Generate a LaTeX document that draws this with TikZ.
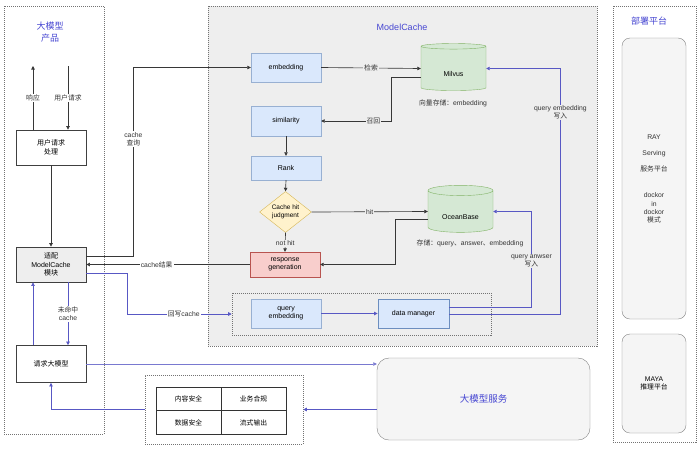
\documentclass[tikz,border=0pt]{standalone}
\usepackage{fontspec}
\setmainfont{Liberation Sans}
\newfontfamily\cjk{Noto Sans CJK SC}
\usetikzlibrary{shapes.geometric,arrows.meta,calc}
\definecolor{regfill}{RGB}{238,238,238}
\definecolor{bluefill}{RGB}{218,232,252}
\definecolor{blueedge}{RGB}{108,142,191}
\definecolor{greenfill}{RGB}{213,232,212}
\definecolor{greenedge}{RGB}{130,179,102}
\definecolor{yelfill}{RGB}{255,242,204}
\definecolor{yeledge}{RGB}{214,182,86}
\definecolor{redfill}{RGB}{248,206,204}
\definecolor{rededge}{RGB}{184,84,80}
\definecolor{purp}{RGB}{88,88,196}
\definecolor{titleblue}{RGB}{70,70,210}
\definecolor{lineg}{RGB}{55,55,55}
\tikzset{
  lbl/.style={font=\fontsize{6.8}{8}\selectfont, text=black!80, inner sep=1pt, align=center},
  container/.style={draw=black!55, dash pattern=on 1pt off 1pt, line width=0.6pt},
  plainbox/.style={draw=black!75, line width=0.8pt, fill=white, minimum width=70pt, minimum height=35pt, align=center, inner sep=1pt, font=\fontsize{7}{8.5}\selectfont},
  bluebox/.style={draw=blueedge!70, fill=bluefill, minimum width=70pt, minimum height=29pt, align=center, inner sep=1pt, font=\fontsize{7}{8.5}\selectfont},
  cyl/.style={cylinder, shape border rotate=90, aspect=0.28, draw=greenedge, fill=greenfill, minimum width=65pt, minimum height=47pt, inner sep=0pt, text height=16pt, text depth=0pt, font=\fontsize{7}{8.5}\selectfont},
  roundbox/.style={draw=black!50, fill=black!4, rounded corners=8pt, align=center, font=\fontsize{6.8}{9}\selectfont},
  arr/.style={draw=lineg, line width=0.65pt, -{Triangle[length=3.5pt,width=3.5pt]}},
  barr/.style={draw=purp, line width=0.65pt, -{Triangle[length=3.5pt,width=3.5pt]}},
  cell/.style={draw=black!80, line width=0.8pt, minimum width=65pt, minimum height=23.5pt, font=\fontsize{6.8}{8}\selectfont\cjk, inner sep=0pt}
}
\begin{document}
\begin{tikzpicture}[x=1pt,y=-1pt]
\useasboundingbox (0,0) rectangle (700,448);
\fill[white] (0,0) rectangle (700,448);
% containers
\node[container, minimum width=100pt, minimum height=428pt, inner sep=0pt] (leftc) at (54,220) {};
\node[container, fill=regfill, minimum width=389pt, minimum height=340pt, inner sep=0pt] (mcc) at (402.5,176) {};
\node[container, minimum width=83pt, minimum height=436pt, inner sep=0pt] (rightc) at (654.5,224) {};
\node[font=\fontsize{9}{11.5}\selectfont\cjk, text=titleblue, align=center] (t1) at (50,32) {大模型\\产品};
\node[font=\fontsize{9}{11}\selectfont, text=titleblue] (t2) at (402,27) {ModelCache};
\node[font=\fontsize{9}{11}\selectfont\cjk, text=titleblue] (t3) at (649,21) {部署平台};
\node[container, minimum width=259pt, minimum height=42pt, inner sep=0pt] (grp) at (361.5,314) {};

% left column
\node[plainbox] (userreq) at (51,147.5) {\cjk 用户请求\\\cjk 处理};
\node[plainbox, fill=regfill] (adapter) at (51,264.5) {\cjk 适配\\ModelCache\\\cjk 模块};
\node[plainbox, minimum height=37pt] (llmreq) at (51,364) {\cjk 请求大模型};
\coordinate (respend) at (33,66);
\coordinate (reqstart) at (68,66);

% model cache internals
\node[bluebox] (emb) at (286,67.5) {embedding};
\node[bluebox, minimum height=30pt] (sim) at (286,121) {similarity};
\node[bluebox, minimum height=24pt] (rank) at (286,168) {Rank};
\node[diamond, draw=yeledge, fill=yelfill, minimum width=52pt, minimum height=34pt, inner sep=0pt, align=center, font=\fontsize{6.5}{7.5}\selectfont] (judge) at (285.5,212) {Cache hit\\judgment};
\node[draw=rededge, fill=redfill, minimum width=70pt, minimum height=25pt, align=center, inner sep=1pt, font=\fontsize{7}{8.5}\selectfont] (resp) at (285,264.5) {response\\generation};
\node[bluebox] (qemb) at (286,313.5) {query\\embedding};
\node[bluebox, draw=blueedge, line width=0.8pt, minimum width=71pt] (dm) at (413.5,313.5) {data manager};
\node[cyl] (milvus) at (453.5,68.5) {Milvus};
\node[cyl] (ocean) at (460.5,211.5) {OceanBase};
\node[lbl] (mlab) at (453,103) {{\cjk 向量存储：}embedding};
\node[lbl] (olab) at (470,243) {{\cjk 存储：}query{\cjk 、}answer{\cjk 、}embedding};

% bottom
\node[roundbox, minimum width=213pt, minimum height=82pt, rounded corners=12pt, font=\fontsize{9.5}{11}\selectfont\cjk, text=titleblue] (svc) at (483.5,399) {大模型服务};
\node[container, minimum width=158pt, minimum height=69pt, inner sep=0pt] (safe) at (224,409.5) {};
\node[cell] (c1) at (188.5,399) {内容安全};
\node[cell] (c2) at (253.5,399) {业务合规};
\node[cell] (c3) at (188.5,422.5) {数据安全};
\node[cell] (c4) at (253.5,422.5) {流式输出};

% right
\node[roundbox, minimum width=64pt, minimum height=281pt] (ray) at (654,178.5) {};
\node[lbl] (raytxt) at (654,137) {RAY};
\node[lbl] (serv) at (654,154) {Serving};
\node[lbl, font=\fontsize{6.8}{8}\selectfont\cjk] (fwpt) at (654,169) {服务平台};
\node[lbl, font=\fontsize{6.8}{8.2}\selectfont] (dind) at (654,208) {dockor\\in\\dockor\\{\cjk 模式}};
\node[roundbox, minimum width=64pt, minimum height=99pt, font=\fontsize{6.8}{8.5}\selectfont] (maya) at (654,383.5) {MAYA\\{\cjk 推理平台}};

% edges left
\draw[arr] ([xshift=-18pt]userreq.north) -- node[lbl, fill=white, font=\fontsize{6.8}{8}\selectfont\cjk] {响应} (respend);
\draw[arr] (reqstart) -- node[lbl, fill=white, font=\fontsize{6.8}{8}\selectfont\cjk] {用户请求} ([xshift=17pt]userreq.north);
\draw[arr] (userreq.south) -- (adapter.north);
\draw[arr] ([yshift=8.5pt]adapter.east) -- ++(47,0) |- node[lbl, fill=white, pos=0.31] {cache\\{\cjk 查询}} (emb.west);
\draw[arr] (resp.west) -- node[lbl, fill=white, pos=0.57] {cache{\cjk 结果}} (adapter.east);
\draw[barr] ([yshift=-8.5pt]adapter.east) -- ++(41,0) |- node[lbl, fill=white, pos=0.77] {{\cjk 回写}cache} (grp.west);
\draw[barr] ([xshift=17pt]adapter.south) -- node[lbl, fill=white] {{\cjk 未命中}\\cache} ([xshift=17pt]llmreq.north);
\draw[barr] ([xshift=-18pt]llmreq.north) -- ([xshift=-18pt]adapter.south);
\draw[barr, draw=purp!80] (llmreq.east) -- (llmreq.east -| svc.west);
\draw[barr] (safe.east -| svc.west) -- (safe.east);
\draw[barr] (safe.west) -| (llmreq.south);

% edges model cache
\draw[arr] (emb.east) -- node[lbl, fill=regfill, font=\fontsize{6.8}{8}\selectfont\cjk] {检索} (milvus.west);
\draw[arr] ([yshift=-9pt]milvus.west) -- ++(-29,0) |- node[lbl, fill=regfill, pos=0.63, font=\fontsize{6.8}{8}\selectfont\cjk] {召回} (sim.east);
\draw[arr] (sim.south) -- (rank.north);
\draw[arr] (rank.south) -- (judge.north);
\draw[arr] (judge.east) -- node[lbl, fill=regfill] {hit} (ocean.west);
\draw[arr] (judge.south) -- node[lbl, fill=regfill, pos=0.55] {not hit} (resp.north);
\draw[arr] ([yshift=-7.5pt]ocean.west) -- ++(-32,0) |- (resp.east);
\draw[barr] (qemb.east) -- (dm.west);
\draw[barr] ([yshift=6.5pt]dm.east) -- ++(82,0) |- node[lbl, fill=regfill, pos=0.24] {query anwser\\{\cjk 写入}} (ocean.east);
\draw[barr] ([yshift=-0.5pt]dm.east) -- ++(111,0) |- node[lbl, fill=regfill, pos=0.41] {query embedding\\{\cjk 写入}} (milvus.east);
\end{tikzpicture}
\end{document}
